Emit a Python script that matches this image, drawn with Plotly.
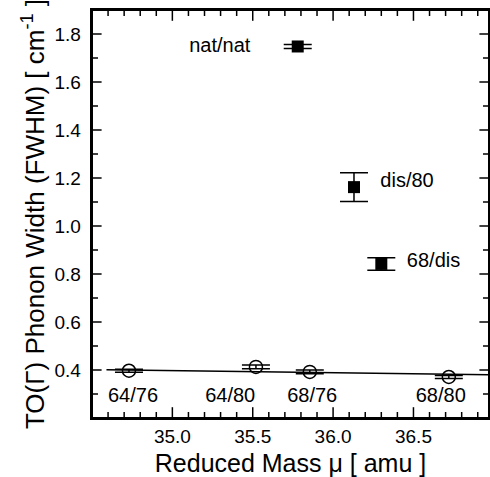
import plotly.graph_objects as go

# Data
filled_labels = ["nat/nat", "dis/80", "68/dis"]
filled_x = [35.78, 36.13, 36.30]
filled_y = [1.748, 1.162, 0.842]
filled_err = [0.008, 0.060, 0.026]

open_labels = ["64/76", "64/80", "68/76", "68/80"]
open_x = [34.73, 35.52, 35.855, 36.72]
open_y = [0.397, 0.413, 0.392, 0.371]
open_err = [0.006, 0.008, 0.008, 0.006]

fit_x = [34.59, 36.97]
fit_y = [0.401, 0.380]

label_x_filled = [35.295, 36.46, 36.625]
label_y_filled = [1.745, 1.185, 0.852]
label_x_open = [34.755, 35.36, 35.87, 36.67]
label_y_open = [0.288, 0.288, 0.288, 0.288]

x_range = [34.5, 36.97]
y_range = [0.2, 1.9]
x_ticks = [35.0, 35.5, 36.0, 36.5]
x_minor = [34.6, 34.7, 34.8, 34.9, 35.1, 35.2, 35.3, 35.4, 35.6, 35.7, 35.8, 35.9,
           36.1, 36.2, 36.3, 36.4, 36.6, 36.7, 36.8, 36.9]
y_ticks = [0.4, 0.6, 0.8, 1.0, 1.2, 1.4, 1.6, 1.8]
y_minor = [0.3, 0.5, 0.7, 0.9, 1.1, 1.3, 1.5, 1.7]

FONT = "Liberation Sans, Arial, Helvetica, sans-serif"

WIDTH, HEIGHT = 490, 477
MARGIN = dict(l=92, r=1, t=10, b=59)
plot_w = WIDTH - MARGIN["l"] - MARGIN["r"]
plot_h = HEIGHT - MARGIN["t"] - MARGIN["b"]
x_per_px = (x_range[1] - x_range[0]) / plot_w
y_per_px = (y_range[1] - y_range[0]) / plot_h

fig = go.Figure()


def tick_markers(xs, ys, symbol, size):
    fig.add_trace(go.Scatter(
        x=xs, y=ys, mode="markers",
        marker=dict(symbol=symbol, size=size, color="black",
                    line=dict(color="black", width=1.5)),
        showlegend=False, hoverinfo="skip"))


for vals, length in ((x_ticks, 9), (x_minor, 5)):
    half = length / 2 * y_per_px
    xs = list(vals) + list(vals)
    ys = [y_range[0] + half] * len(vals) + [y_range[1] - half] * len(vals)
    tick_markers(xs, ys, "line-ns", length)
for vals, length in ((y_ticks, 8), (y_minor, 5)):
    half = length / 2 * x_per_px
    ys = list(vals) + list(vals)
    xs = [x_range[0] + half] * len(vals) + [x_range[1] - half] * len(vals)
    tick_markers(xs, ys, "line-ew", length)

fig.add_trace(go.Scatter(
    x=fit_x, y=fit_y, mode="lines",
    line=dict(color="black", width=1.5), showlegend=False, hoverinfo="skip"))

fig.add_trace(go.Scatter(
    x=open_x, y=open_y, mode="markers",
    marker=dict(symbol="circle-open", size=13, color="black", line=dict(width=1.5)),
    error_y=dict(type="data", array=open_err, visible=True, color="black",
                 thickness=1.5, width=14),
    showlegend=False))

fig.add_trace(go.Scatter(
    x=filled_x, y=filled_y, mode="markers",
    marker=dict(symbol="square", size=12, color="black"),
    error_y=dict(type="data", array=filled_err, visible=True, color="black",
                 thickness=1.5, width=14),
    showlegend=False))

fig.add_trace(go.Scatter(
    x=label_x_filled, y=label_y_filled, mode="text", text=filled_labels,
    textfont=dict(family=FONT, size=20, color="black"),
    showlegend=False, hoverinfo="skip"))

fig.add_trace(go.Scatter(
    x=label_x_open, y=label_y_open, mode="text", text=open_labels,
    textfont=dict(family=FONT, size=20, color="black"),
    showlegend=False, hoverinfo="skip"))

fig.update_xaxes(
    range=x_range, tickmode="array", tickvals=x_ticks,
    ticktext=[f"{v:.1f}" for v in x_ticks],
    showline=True, linecolor="black", linewidth=2, mirror=True, ticks="",
    showgrid=False, zeroline=False, automargin=False,
    tickfont=dict(family=FONT, size=19, color="black"),
    title=dict(text="Reduced Mass μ [ amu ]", font=dict(family=FONT, size=25, color="black"),
               standoff=12))

fig.update_yaxes(
    range=y_range, tickmode="array", tickvals=y_ticks,
    ticktext=[f"{v:.1f}\u00a0" for v in y_ticks],
    showline=True, linecolor="black", linewidth=2, mirror=True, ticks="",
    showgrid=False, zeroline=False, automargin=False,
    tickfont=dict(family=FONT, size=19, color="black"),
    title=dict(text="TO(Γ) Phonon Width (FWHM) [ cm<sup>-1</sup> ]",
               font=dict(family=FONT, size=26, color="black"), standoff=2))

fig.update_layout(
    width=WIDTH, height=HEIGHT,
    margin=MARGIN,
    plot_bgcolor="white", paper_bgcolor="white",
    showlegend=False,
    shapes=[dict(type="rect", xref="paper", yref="paper", x0=0, x1=1, y0=0, y1=1,
                 line=dict(color="black", width=2))],
)

fig.write_html("out.html", config={"displayModeBar": False},
               post_script="document.body.style.margin='0px';")
